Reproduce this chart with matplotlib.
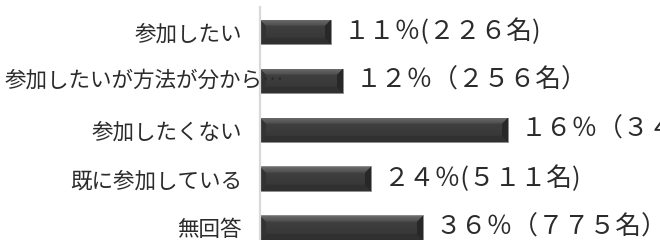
import numpy as np
import matplotlib
matplotlib.use("Agg")
import matplotlib.pyplot as plt
import matplotlib.transforms as mtransforms

plt.rcParams["font.family"] = ["Noto Sans CJK JP", "DejaVu Sans"]

# Data (bar lengths as drawn in the chart, arbitrary units)
categories = ["参加したい", "参加したいが方法が分から…", "参加したくない", "既に参加している", "無回答"]
bar_values = [71, 83, 248, 111, 163]
value_labels = ["１１％(２２６名)", "１２％（２５６名）", "１６％（３４４名）",
                "２４％(５１１名)", "３６％（７７５名）"]

W, H = 660, 240
fig = plt.figure(figsize=(W / 100, H / 100), dpi=100)
ax = fig.add_axes([260 / W, -12 / H, 400 / W, 244.5 / H])
ax.set_xlim(0, 400)
ax.set_ylim(len(categories) - 0.5, -0.5)

for s in ["top", "right", "bottom"]:
    ax.spines[s].set_visible(False)
ax.spines["left"].set_color("#d9d9d9")
ax.spines["left"].set_linewidth(1.6)
ax.set_xticks([])
ax.set_yticks(range(len(categories)))
ax.tick_params(axis="y", length=0, pad=13, labelsize=15.5, labelcolor="#2b2b2b")
ax.set_yticklabels([c if len(c) < 10 else "" for c in categories])

bars = ax.barh(range(len(categories)), bar_values, height=0.5,
               color="#3a3a3a", edgecolor="#8c8c8c", linewidth=0.6, zorder=2)


def bevel_image(nx, ny, b=6):
    rows = np.arange(ny)[:, None] * np.ones((1, nx))
    cols = np.ones((ny, 1)) * np.arange(nx)[None, :]
    t = rows / max(ny - 1, 1)
    # vertical shading of the flat top
    img = 0.26 - 0.05 * t
    img = np.where(t < 0.3, 0.36 - 0.35 * t, img)
    dt, db = rows, ny - 1 - rows
    dl, dr = cols, nx - 1 - cols
    dmin = np.minimum(np.minimum(dt, db), np.minimum(dl, dr))
    face_top = (dt == dmin) & (dt < b)
    face_bot = (db == dmin) & (db < b)
    face_left = (dl == dmin) & (dl < b) & ~face_top
    face_right = (dr == dmin) & (dr < b) & ~face_top
    img = np.where(face_top, 0.42 - 0.02 * dt, img)
    img = np.where(face_bot, 0.19, img)
    img = np.where(face_left, 0.2, img)
    img = np.where(face_right, 0.16, img)
    img[0, :] = 0.55
    return img


px_per_unit = ax.transData.transform((1, 0))[0] - ax.transData.transform((0, 0))[0]
px_per_row = abs(ax.transData.transform((0, 1))[1] - ax.transData.transform((0, 0))[1])
for bar in bars:
    x0, y0 = bar.get_x(), bar.get_y()
    w, h = bar.get_width(), bar.get_height()
    nx = max(int(round(w * px_per_unit)), 2)
    ny = max(int(round(h * px_per_row)), 2)
    im = ax.imshow(bevel_image(nx, ny), cmap="gray", vmin=0, vmax=1,
                   extent=(x0, x0 + w, y0 + h, y0), aspect="auto",
                   interpolation="bilinear", zorder=2.5)
    im.set_clip_path(bar)

for i, (v, lab) in enumerate(zip(bar_values, value_labels)):
    ax.annotate(lab, (v, i), xytext=(9, 0), textcoords="offset points",
                va="center", ha="left", fontsize=18.5, color="#2b2b2b",
                annotation_clip=False)

# long category label overflows onto the bar, left aligned at figure edge
trans = mtransforms.blended_transform_factory(fig.transFigure, ax.transData)
for i, c in enumerate(categories):
    if len(c) >= 10:
        fig.text(5 / W, i, c, transform=trans, ha="left", va="center",
                 fontsize=15.5, color="#2b2b2b", zorder=5)

ax.set_aspect("auto")
ax.set_xlim(0, 400)
ax.set_ylim(len(categories) - 0.5, -0.5)
fig.savefig("out.png", dpi=100)
